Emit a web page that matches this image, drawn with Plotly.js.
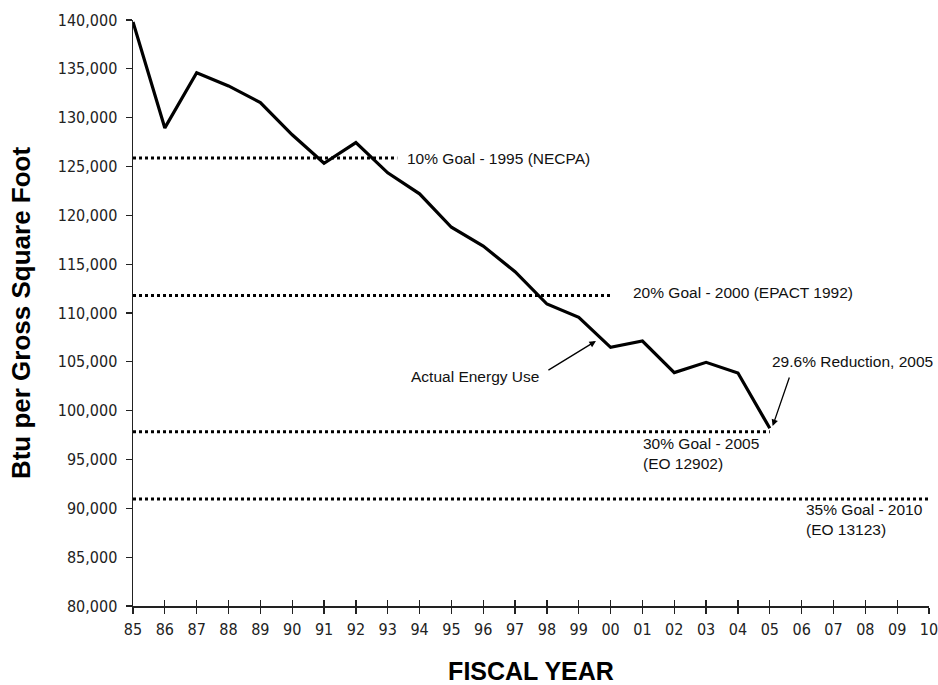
<!DOCTYPE html>
<html>
<head>
<meta charset="utf-8">
<script src="https://cdn.plot.ly/plotly-3.0.1.min.js"></script>
<style>
  html, body { margin: 0; padding: 0; background: #fff; }
  #chart { width: 938px; height: 685px; }
</style>
</head>
<body>
<div id="chart"></div>
<script>
// ---- data ----
var years = [1985,1986,1987,1988,1989,1990,1991,1992,1993,1994,1995,1996,1997,1998,1999,2000,2001,2002,2003,2004,2005];
var actualUse = [139800,128950,134600,133250,131550,128250,125330,127450,124350,122200,118780,116850,114230,110920,109560,106480,107130,103900,104950,103850,98200];

var tickYears = [1985,1986,1987,1988,1989,1990,1991,1992,1993,1994,1995,1996,1997,1998,1999,2000,2001,2002,2003,2004,2005,2006,2007,2008,2009,2010];
var tickLabels = ["85","86","87","88","89","90","91","92","93","94","95","96","97","98","99","00","01","02","03","04","05","06","07","08","09","10"];

var goalNames = ["10% Goal - 1995 (NECPA)", "20% Goal - 2000 (EPACT 1992)", "30% Goal - 2005<br>(EO 12902)", "35% Goal - 2010<br>(EO 13123)"];
var goalValues = [125870, 111800, 97850, 90950];
var goalStart = [1985, 1985, 1985, 1985];
var goalEnd = [1993.3, 2000, 2005, 2010];

// ---- styles ----
var tickFont = {family: "'Liberation Sans Narrow', 'Arial Narrow', 'DejaVu Sans Condensed', Arial, sans-serif", size: 16, color: '#222'};
var annFont = {family: "'Liberation Sans', Arial, sans-serif", size: 15.5, color: '#111'};
var xTitleFont = {family: "'Liberation Sans', Arial, sans-serif", size: 25, color: '#000', weight: 'bold'};
var yTitleFont = {family: "'Liberation Sans', Arial, sans-serif", size: 26, color: '#000', weight: 'bold'};

var traces = [];
for (var i = 0; i < goalValues.length; i++) {
  traces.push({
    x: [goalStart[i], goalEnd[i]],
    y: [goalValues[i], goalValues[i]],
    type: 'scatter', mode: 'lines',
    xaxis: i === 0 ? 'x2' : 'x',
    line: {color: '#000', width: 3, dash: 'dot'},
    hoverinfo: 'skip', showlegend: false
  });
}
traces.push({
  x: years, y: actualUse, type: 'scatter', mode: 'lines',
  line: {color: '#000', width: 3.2},
  showlegend: false, name: 'Actual Energy Use'
});

var annotations = [
  {x: 1993.55, y: goalValues[0], text: goalNames[0], xanchor: 'left', yanchor: 'middle', showarrow: false},
  {x: 2000.65, y: 112050, text: goalNames[1], xanchor: 'left', yanchor: 'middle', showarrow: false},
  {x: 2000.95, y: 95640, text: goalNames[2], xanchor: 'left', yanchor: 'middle', align: 'left', showarrow: false},
  {x: 2006.08, y: 88870, text: goalNames[3], xanchor: 'left', yanchor: 'middle', align: 'left', showarrow: false},
  {x: 1997.8, y: 103480, text: 'Actual Energy Use', xanchor: 'right', yanchor: 'middle', showarrow: false},
  {x: 2007.59, y: 105015, text: '29.6% Reduction, 2005', xanchor: 'center', yanchor: 'middle', showarrow: false},
  // arrows
  {x: 1999.54, y: 107130, ax: 1998.0, ay: 104060, axref: 'x', ayref: 'y', text: '', showarrow: true,
   arrowhead: 2, arrowsize: 1, arrowwidth: 1.3, arrowcolor: '#000', standoff: 0},
  {x: 2005.09, y: 98430, ax: 2005.63, ay: 103550, axref: 'x', ayref: 'y', text: '', showarrow: true,
   arrowhead: 2, arrowsize: 1, arrowwidth: 1.3, arrowcolor: '#000', standoff: 0}
];
annotations.forEach(function(a){ a.font = annFont; });

var xCommon = {
  type: 'linear', range: [1985, 2010], tickvals: tickYears, ticktext: tickLabels,
  showgrid: false, zeroline: false, tickcolor: '#222', ticklen: 6, tickwidth: 1.3,
  showline: true, linecolor: '#222', linewidth: 1.5, fixedrange: true
};

var layout = {
  width: 938, height: 685,
  margin: {l: 133, r: 9, t: 20, b: 79},
  paper_bgcolor: '#fff', plot_bgcolor: '#fff',
  showlegend: false,
  xaxis: Object.assign({}, xCommon, {
    ticks: 'outside', tickfont: tickFont, ticklabeloverflow: 'allow',
    ticklabelstandoff: 2,
    title: {text: 'FISCAL YEAR', font: xTitleFont, standoff: 28}
  }),
  xaxis2: Object.assign({}, xCommon, {
    overlaying: 'x', anchor: 'y', side: 'bottom', ticks: 'inside', showticklabels: false
  }),
  yaxis: {
    range: [80000, 140000], dtick: 5000, tick0: 80000, tickformat: ',d',
    ticks: 'outside', ticklen: 6, tickwidth: 1.3, tickcolor: '#222',
    tickfont: tickFont, showgrid: false, zeroline: false, ticklabeloverflow: 'allow',
    ticklabelstandoff: 5,
    showline: true, linecolor: '#222', linewidth: 1.5, fixedrange: true,
    title: {text: 'Btu per Gross Square Foot', font: yTitleFont, standoff: 19}
  },
  annotations: annotations
};

Plotly.newPlot('chart', traces, layout, {displayModeBar: false, staticPlot: true});
</script>
</body>
</html>
